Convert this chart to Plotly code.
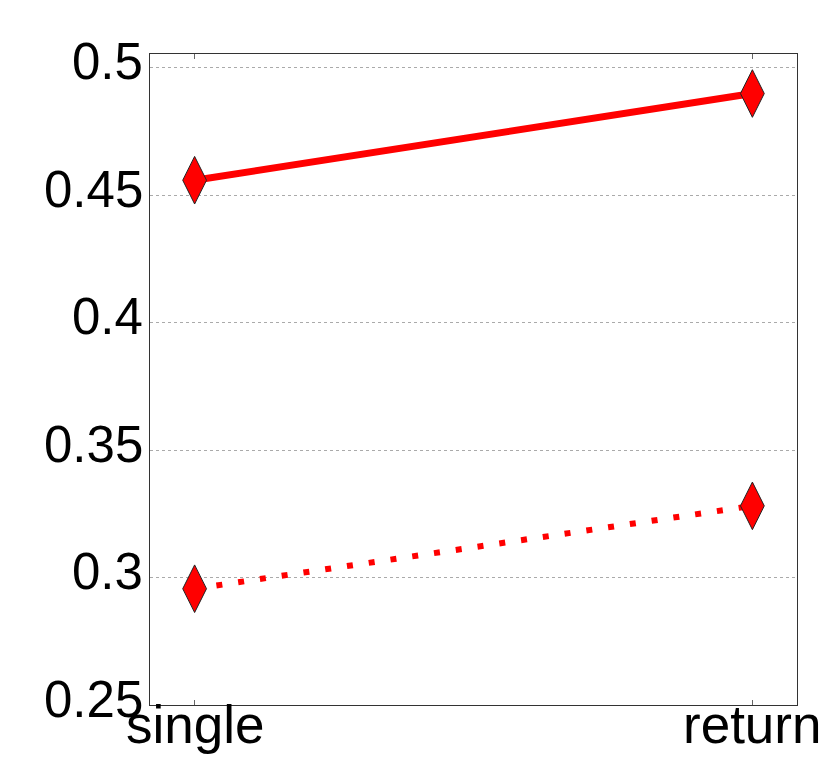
import plotly.graph_objects as go

categories = ["single", "return"]
solid_values = [0.4558, 0.4898]
dotted_values = [0.2956, 0.3281]
y_ticks = [0.25, 0.3, 0.35, 0.4, 0.45, 0.5]
y_tick_labels = ["0.25", "0.3", "0.35", "0.4", "0.45", "0.5"]

x_pos = list(range(len(categories)))
FONT = "Liberation Sans, Arial, sans-serif"

fig = go.Figure()
marker = dict(symbol="diamond-tall", size=34, color="red",
              line=dict(color="#222222", width=1))
fig.add_trace(go.Scatter(x=x_pos, y=solid_values, mode="lines+markers",
                         line=dict(color="red", width=7), marker=marker,
                         showlegend=False, hoverinfo="skip"))
fig.add_trace(go.Scatter(x=x_pos, y=dotted_values, mode="lines+markers",
                         line=dict(color="red", width=6, dash="6px,16px"),
                         marker=marker, showlegend=False, hoverinfo="skip"))

for xp, cat in zip(x_pos, categories):
    fig.add_annotation(x=xp, xref="x", y=0, yref="paper", text=cat,
                       showarrow=False, yanchor="top", xanchor="center",
                       yshift=12, font=dict(family=FONT, size=53, color="black"))

for yv, lab in zip(y_ticks, y_tick_labels):
    fig.add_annotation(x=0, xref="paper", y=yv, yref="y", text=lab,
                       showarrow=False, yanchor="middle", xanchor="right",
                       xshift=-5, yshift=6, font=dict(family=FONT, size=51, color="black"))

fig.update_layout(
    width=830, height=767,
    margin=dict(l=150, r=33, t=54, b=62),
    paper_bgcolor="white", plot_bgcolor="white",
    font=dict(family=FONT, size=49, color="black"),
)
fig.update_xaxes(
    range=[-0.08, 1.08], tickmode="array", tickvals=x_pos, showticklabels=False,
    showgrid=False, zeroline=False, showline=True, linecolor="#333333", linewidth=1,
    mirror="allticks", ticks="inside", ticklen=5, tickcolor="#666666",
    automargin=False,
)
fig.update_yaxes(
    range=[0.25, 0.5053], tickmode="array", tickvals=y_ticks, showticklabels=False,
    showgrid=True, gridcolor="#aaaaaa", griddash="dot", gridwidth=1,
    zeroline=False, showline=True, linecolor="#333333", linewidth=1,
    mirror=True, ticks="", automargin=False,
)

fig.write_html("out.html", config={"displayModeBar": False},
               post_script="document.body.style.margin='0';")
